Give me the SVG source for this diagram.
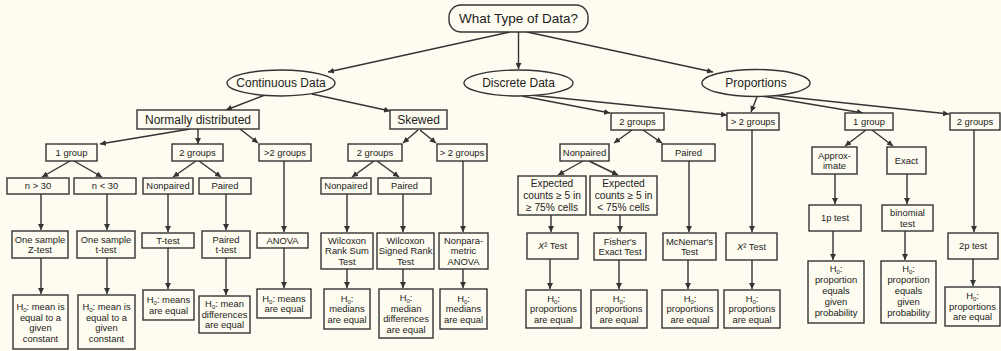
<svg xmlns="http://www.w3.org/2000/svg" width="1001" height="351" viewBox="0 0 1001 351">
<style>
.n rect, .n ellipse { fill: #fefcf0; stroke: #333; stroke-width: 1.4; }
text { font-family: "Liberation Sans", Arial, sans-serif; fill: #222; text-anchor: middle; }
.s { font-size: 9.4px; }
.m { font-size: 12px; }
.e { font-size: 10.2px; }
.r { font-size: 13.5px; }
.sub { font-size: 6px; }
#edges line { stroke: #333; stroke-width: 1.4; marker-end: url(#ah); }
</style>
<defs>
<marker id="ah" markerUnits="userSpaceOnUse" markerWidth="6" markerHeight="6" refX="6" refY="3" orient="auto">
<path d="M0,0 L6,3 L0,6 z" fill="#333"/>
</marker>
</defs>
<rect x="0" y="0" width="1001" height="351" fill="#fefcf0"/>

<g id="edges">
<line x1="510" y1="32" x2="328" y2="72"/>
<line x1="518.5" y1="32" x2="518.5" y2="69"/>
<line x1="527" y1="32" x2="713" y2="72"/>
<line x1="265" y1="95" x2="226" y2="110"/>
<line x1="312" y1="94" x2="390" y2="111"/>
<line x1="522" y1="96" x2="610" y2="113"/>
<line x1="530" y1="95" x2="727" y2="115"/>
<line x1="757" y1="97" x2="751" y2="112"/>
<line x1="762" y1="96" x2="863" y2="113"/>
<line x1="770" y1="95" x2="949" y2="114"/>
<line x1="190" y1="129" x2="100" y2="144"/>
<line x1="198" y1="129" x2="198" y2="144"/>
<line x1="240" y1="129" x2="258" y2="143"/>
<line x1="418" y1="130" x2="403" y2="143"/>
<line x1="420" y1="130" x2="436" y2="143"/>
<line x1="70" y1="161" x2="42" y2="177"/>
<line x1="74" y1="161" x2="102" y2="177"/>
<line x1="196" y1="161" x2="173" y2="177"/>
<line x1="199" y1="161" x2="221" y2="177"/>
<line x1="374" y1="161" x2="352" y2="177"/>
<line x1="377" y1="161" x2="399" y2="177"/>
<line x1="632" y1="130" x2="614" y2="143"/>
<line x1="643" y1="130" x2="662" y2="143"/>
<line x1="583" y1="161" x2="558" y2="175"/>
<line x1="589" y1="161" x2="618" y2="175"/>
<line x1="866" y1="130" x2="845" y2="146"/>
<line x1="872" y1="130" x2="893" y2="146"/>
<line x1="41" y1="194" x2="41" y2="230"/>
<line x1="107" y1="194" x2="107" y2="230"/>
<line x1="168" y1="194" x2="168" y2="232"/>
<line x1="226" y1="194" x2="226" y2="230"/>
<line x1="284" y1="161" x2="284" y2="232"/>
<line x1="347" y1="194" x2="347" y2="232"/>
<line x1="403" y1="194" x2="403" y2="232"/>
<line x1="463" y1="161" x2="463" y2="232"/>
<line x1="551" y1="215" x2="551" y2="232"/>
<line x1="620" y1="215" x2="620" y2="232"/>
<line x1="689" y1="161" x2="689" y2="232"/>
<line x1="752" y1="130" x2="752" y2="232"/>
<line x1="835" y1="174" x2="835" y2="204"/>
<line x1="907" y1="174" x2="907" y2="204"/>
<line x1="974" y1="130" x2="974" y2="232"/>
<line x1="41" y1="258" x2="41" y2="294"/>
<line x1="107" y1="258" x2="107" y2="294"/>
<line x1="168" y1="248" x2="168" y2="289"/>
<line x1="226" y1="258" x2="226" y2="295"/>
<line x1="284" y1="248" x2="284" y2="288"/>
<line x1="347" y1="269" x2="347" y2="288"/>
<line x1="403" y1="269" x2="403" y2="288"/>
<line x1="463" y1="269" x2="463" y2="288"/>
<line x1="550" y1="259" x2="550" y2="289"/>
<line x1="619" y1="260" x2="619" y2="289"/>
<line x1="688" y1="260" x2="688" y2="289"/>
<line x1="752" y1="260" x2="752" y2="289"/>
<line x1="833" y1="231" x2="833" y2="260"/>
<line x1="905" y1="231" x2="905" y2="260"/>
<line x1="973" y1="259" x2="973" y2="286"/>
</g>

<g id="root" class="n"><rect x="449" y="5" width="139" height="27" rx="12"/><text class="r" x="518.5" y="23.3">What Type of Data?</text></g>
<g id="continuous" class="n"><ellipse cx="281" cy="83" rx="54" ry="13"/><text class="m" x="281" y="87.3">Continuous Data</text></g>
<g id="discrete" class="n"><ellipse cx="518.5" cy="83" rx="54.5" ry="13"/><text class="m" x="518.5" y="87.3">Discrete Data</text></g>
<g id="proportions" class="n"><ellipse cx="756" cy="83" rx="54" ry="13.5"/><text class="m" x="756" y="87.3">Proportions</text></g>

<g id="normal" class="n"><rect x="137" y="110" width="122" height="19"/><text class="m" x="198" y="123.8">Normally distributed</text></g>
<g id="skewed" class="n"><rect x="390" y="110" width="57" height="19"/><text class="m" x="418.5" y="123.8">Skewed</text></g>
<g id="d2g" class="n"><rect x="611" y="113" width="53" height="17"/><text class="s" x="637.5" y="124.8">2 groups</text></g>
<g id="dgt2" class="n"><rect x="727" y="113" width="52" height="17"/><text class="s" x="753" y="124.8">&gt; 2 groups</text></g>
<g id="p1g" class="n"><rect x="845" y="113" width="48" height="17"/><text class="s" x="869" y="124.8">1 group</text></g>
<g id="p2g" class="n"><rect x="950" y="113" width="50" height="17"/><text class="s" x="975" y="124.8">2 groups</text></g>

<g id="n1g" class="n"><rect x="46" y="144" width="51" height="17"/><text class="s" x="71.5" y="155.8">1 group</text></g>
<g id="n2g" class="n"><rect x="172" y="144" width="51" height="17"/><text class="s" x="197.5" y="155.8">2 groups</text></g>
<g id="ngt2" class="n"><rect x="259" y="144" width="52" height="17"/><text class="s" x="285" y="155.8">&gt;2 groups</text></g>
<g id="s2g" class="n"><rect x="348" y="144" width="54" height="17"/><text class="s" x="375" y="155.8">2 groups</text></g>
<g id="sgt2" class="n"><rect x="437" y="144" width="50" height="17"/><text class="s" x="462" y="155.8">&gt; 2 groups</text></g>
<g id="dnp" class="n"><rect x="560" y="144" width="49" height="17"/><text class="s" x="584.5" y="155.8">Nonpaired</text></g>
<g id="dpr" class="n"><rect x="662" y="144" width="53" height="17"/><text class="s" x="688.5" y="155.8">Paired</text></g>

<g id="ngt30" class="n"><rect x="7" y="178" width="62" height="16"/><text class="s" x="38" y="189.3">n &gt; 30</text></g>
<g id="nlt30" class="n"><rect x="74" y="178" width="62" height="16"/><text class="s" x="105" y="189.3">n &lt; 30</text></g>
<g id="nnp" class="n"><rect x="143" y="178" width="50" height="16"/><text class="s" x="168" y="189.3">Nonpaired</text></g>
<g id="npr" class="n"><rect x="199" y="178" width="52" height="16"/><text class="s" x="225" y="189.3">Paired</text></g>
<g id="snp" class="n"><rect x="321" y="178" width="50" height="16"/><text class="s" x="346" y="189.3">Nonpaired</text></g>
<g id="spr" class="n"><rect x="378" y="178" width="53" height="16"/><text class="s" x="404.5" y="189.3">Paired</text></g>

<g id="dexp1" class="n"><rect x="518" y="176" width="68" height="39"/><text class="e" x="552" y="186.8">Expected</text><text class="e" x="552" y="198.8">counts ≥ 5 in</text><text class="e" x="552" y="210.8">≥ 75% cells</text></g>
<g id="dexp2" class="n"><rect x="590" y="176" width="67" height="39"/><text class="e" x="623.5" y="186.8">Expected</text><text class="e" x="623.5" y="198.8">counts ≥ 5 in</text><text class="e" x="623.5" y="210.8">&lt; 75% cells</text></g>
<g id="papprox" class="n"><rect x="812" y="147" width="45" height="27"/><text class="s" x="834.5" y="158.6">Approx-</text><text class="s" x="834.5" y="169.1">imate</text></g>
<g id="pexact" class="n"><rect x="887" y="147" width="39" height="27"/><text class="s" x="906.5" y="163.8">Exact</text></g>

<g id="zt" class="n"><rect x="12" y="231" width="56" height="27"/><text class="s" x="40" y="242.6">One sample</text><text class="s" x="40" y="253.1">Z-test</text></g>
<g id="tt1" class="n"><rect x="77" y="231" width="58" height="27"/><text class="s" x="106" y="242.6">One sample</text><text class="s" x="106" y="253.1">t-test</text></g>
<g id="ttest" class="n"><rect x="142" y="233" width="52" height="15"/><text class="s" x="168" y="243.8">T-test</text></g>
<g id="ptt" class="n"><rect x="202" y="231" width="48" height="27"/><text class="s" x="226" y="242.6">Paired</text><text class="s" x="226" y="253.1">t-test</text></g>
<g id="anova" class="n"><rect x="257" y="233" width="51" height="15"/><text class="s" x="282.5" y="243.8">ANOVA</text></g>
<g id="wrs" class="n"><rect x="321" y="233" width="52" height="36"/><text class="s" x="347" y="243.8">Wilcoxon</text><text class="s" x="347" y="254.3">Rank Sum</text><text class="s" x="347" y="264.8">Test</text></g>
<g id="wsr" class="n"><rect x="377" y="233" width="57" height="36"/><text class="s" x="405.5" y="243.8">Wilcoxon</text><text class="s" x="405.5" y="254.3">Signed Rank</text><text class="s" x="405.5" y="264.8">Test</text></g>
<g id="npa" class="n"><rect x="439" y="233" width="49" height="36"/><text class="s" x="463.5" y="243.8">Nonpara-</text><text class="s" x="463.5" y="254.3">metric</text><text class="s" x="463.5" y="264.8">ANOVA</text></g>
<g id="x2a" class="n"><rect x="527" y="233" width="51" height="26"/><text class="s" x="552.5" y="249.3"><tspan font-style="italic">X</tspan>² Test</text></g>
<g id="fisher" class="n"><rect x="594" y="233" width="52" height="27"/><text class="s" x="620" y="244.6">Fisher's</text><text class="s" x="620" y="255.1">Exact Test</text></g>
<g id="mcn" class="n"><rect x="663" y="233" width="53" height="27"/><text class="s" x="689.5" y="244.6">McNemar's</text><text class="s" x="689.5" y="255.1">Test</text></g>
<g id="x2b" class="n"><rect x="726" y="233" width="51" height="27"/><text class="s" x="751.5" y="249.8"><tspan font-style="italic">X</tspan>² Test</text></g>
<g id="p1p" class="n"><rect x="809" y="205" width="52" height="26"/><text class="s" x="835" y="221.3">1p test</text></g>
<g id="pbin" class="n"><rect x="882" y="205" width="51" height="26"/><text class="s" x="907.5" y="216.1">binomial</text><text class="s" x="907.5" y="226.6">test</text></g>
<g id="p2p" class="n"><rect x="948" y="233" width="50" height="26"/><text class="s" x="973" y="249.3">2p test</text></g>

<g id="h_zt" class="n"><rect x="13" y="295" width="55" height="54"/><text class="s" x="40.5" y="310">H<tspan class="sub" dy="2">0</tspan><tspan dy="-2">: mean is</tspan></text><text class="s" x="40.5" y="320.5">equal to a</text><text class="s" x="40.5" y="331">given</text><text class="s" x="40.5" y="341.5">constant</text></g>
<g id="h_tt1" class="n"><rect x="78" y="295" width="57" height="54"/><text class="s" x="106.5" y="310">H<tspan class="sub" dy="2">0</tspan><tspan dy="-2">: mean is</tspan></text><text class="s" x="106.5" y="320.5">equal to a</text><text class="s" x="106.5" y="331">given</text><text class="s" x="106.5" y="341.5">constant</text></g>
<g id="h_ttest" class="n"><rect x="143" y="290" width="51" height="30"/><text class="s" x="168.5" y="303">H<tspan class="sub" dy="2">0</tspan><tspan dy="-2">: means</tspan></text><text class="s" x="168.5" y="313.5">are equal</text></g>
<g id="h_ptt" class="n"><rect x="199" y="296" width="51" height="37"/><text class="s" x="224.5" y="307.3">H<tspan class="sub" dy="2">0</tspan><tspan dy="-2">: mean</tspan></text><text class="s" x="224.5" y="317.8">differences</text><text class="s" x="224.5" y="328.3">are equal</text></g>
<g id="h_anova" class="n"><rect x="257" y="289" width="54" height="29"/><text class="s" x="284" y="301.6">H<tspan class="sub" dy="2">0</tspan><tspan dy="-2">: means</tspan></text><text class="s" x="284" y="312.1">are equal</text></g>
<g id="h_wrs" class="n"><rect x="324" y="289" width="46" height="40"/><text class="s" x="347" y="301.8">H<tspan class="sub" dy="2">0</tspan><tspan dy="-2">:</tspan></text><text class="s" x="347" y="312.3">medians</text><text class="s" x="347" y="322.8">are equal</text></g>
<g id="h_wsr" class="n"><rect x="379" y="289" width="54" height="49"/><text class="s" x="406" y="301.1">H<tspan class="sub" dy="2">0</tspan><tspan dy="-2">:</tspan></text><text class="s" x="406" y="311.6">median</text><text class="s" x="406" y="322.1">differences</text><text class="s" x="406" y="332.6">are equal</text></g>
<g id="h_npa" class="n"><rect x="440" y="289" width="47" height="40"/><text class="s" x="463.5" y="301.8">H<tspan class="sub" dy="2">0</tspan><tspan dy="-2">:</tspan></text><text class="s" x="463.5" y="312.3">medians</text><text class="s" x="463.5" y="322.8">are equal</text></g>
<g id="h_x2a" class="n"><rect x="526" y="290" width="55" height="38"/><text class="s" x="553.5" y="301.8">H<tspan class="sub" dy="2">0</tspan><tspan dy="-2">:</tspan></text><text class="s" x="553.5" y="312.3">proportions</text><text class="s" x="553.5" y="322.8">are equal</text></g>
<g id="h_fisher" class="n"><rect x="591" y="290" width="56" height="38"/><text class="s" x="619" y="301.8">H<tspan class="sub" dy="2">0</tspan><tspan dy="-2">:</tspan></text><text class="s" x="619" y="312.3">proportions</text><text class="s" x="619" y="322.8">are equal</text></g>
<g id="h_mcn" class="n"><rect x="662" y="290" width="56" height="38"/><text class="s" x="690" y="301.8">H<tspan class="sub" dy="2">0</tspan><tspan dy="-2">:</tspan></text><text class="s" x="690" y="312.3">proportions</text><text class="s" x="690" y="322.8">are equal</text></g>
<g id="h_x2b" class="n"><rect x="724" y="290" width="56" height="38"/><text class="s" x="752" y="301.8">H<tspan class="sub" dy="2">0</tspan><tspan dy="-2">:</tspan></text><text class="s" x="752" y="312.3">proportions</text><text class="s" x="752" y="322.8">are equal</text></g>
<g id="h_1p" class="n"><rect x="808" y="261" width="56" height="62"/><text class="s" x="836" y="272.3">H<tspan class="sub" dy="2">0</tspan><tspan dy="-2">:</tspan></text><text class="s" x="836" y="283.3">proportion</text><text class="s" x="836" y="294.3">equals</text><text class="s" x="836" y="305.3">given</text><text class="s" x="836" y="316.3">probability</text></g>
<g id="h_bin" class="n"><rect x="881" y="261" width="55" height="62"/><text class="s" x="908.5" y="272.3">H<tspan class="sub" dy="2">0</tspan><tspan dy="-2">:</tspan></text><text class="s" x="908.5" y="283.3">proportion</text><text class="s" x="908.5" y="294.3">equals</text><text class="s" x="908.5" y="305.3">given</text><text class="s" x="908.5" y="316.3">probability</text></g>
<g id="h_2p" class="n"><rect x="945" y="287" width="55" height="39"/><text class="s" x="972.5" y="299.3">H<tspan class="sub" dy="2">0</tspan><tspan dy="-2">:</tspan></text><text class="s" x="972.5" y="309.8">proportions</text><text class="s" x="972.5" y="320.3">are equal</text></g>
</svg>
